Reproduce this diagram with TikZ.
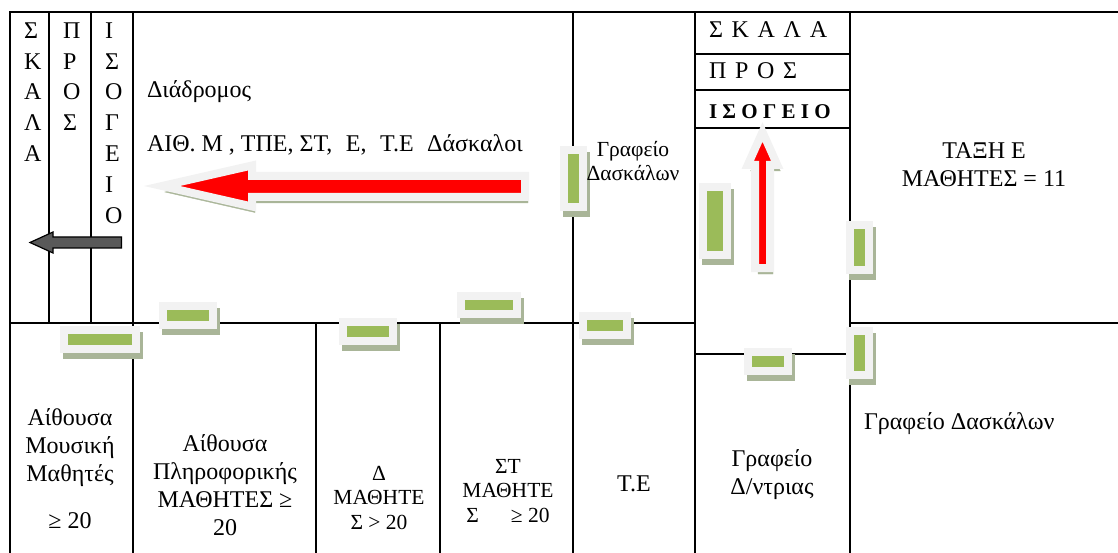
\documentclass[tikz,border=0pt]{standalone}
\usepackage{fontspec}
\setmainfont{Liberation Serif}
\usepackage{tikz}
\usetikzlibrary{positioning,arrows}

\definecolor{doorgreen}{HTML}{9BBB59}
\definecolor{doorpale}{HTML}{F2F2F2}
\definecolor{doorshade}{HTML}{A9B598}
\definecolor{stairgray}{HTML}{595959}

\tikzset{
	wall/.style={line width=1.35pt,draw=black},
	door/.style={rectangle,inner sep=0pt,outer sep=0pt,fill=doorgreen,draw=doorpale,line width=8pt,
		preaction={fill=doorshade,draw=doorshade,transform canvas={shift={(3pt,-6pt)}}}},
	wayarrow/.style={fill=red,draw=doorpale,line width=8pt,line join=miter,miter limit=10,
		preaction={fill=doorshade,draw=doorshade,transform canvas={shift={(3pt,-6pt)}}}},
	label/.style={inner sep=0pt,outer sep=0pt,font=\fontsize{24}{28}\selectfont,align=center},
	smalllabel/.style={label,font=\fontsize{21.5}{24.5}\selectfont},
	letters/.style={inner sep=0pt,outer sep=0pt,anchor=north west,align=left,font=\fontsize{24}{30.8}\selectfont}
}

\begin{document}
\begin{tikzpicture}[x=1pt,y=-1pt]
		\useasboundingbox (0,0) rectangle (1118,553);

		%outer walls
		\draw[wall] (10,553) -- (10,12) -- (1118,12);
		\draw[wall] (10,323) -- (695,323);
		\draw[wall] (850,323) -- (1118,323);

		%stair columns
		\draw[wall] (49,12) -- (49,323);
		\draw[wall] (91,12) -- (91,323);
		\draw[wall] (133,12) -- (133,553);

		%room walls
		\draw[wall] (316,323) -- (316,553);
		\draw[wall] (440,323) -- (440,553);
		\draw[wall] (573,12) -- (573,553);
		\draw[wall] (695,12) -- (695,553);
		\draw[wall] (850,12) -- (850,553);

		%stair rows
		\draw[wall] (695,54) -- (850,54);
		\draw[wall] (695,90) -- (850,90);
		\draw[wall] (695,128) -- (850,128);
		\draw[wall] (695,354) -- (850,354);

		%doors
		\node[door,minimum width=72pt,minimum height=19pt] (d1) at (100,339.5) {};
		\node[door,minimum width=50pt,minimum height=19pt] (d2) at (188,315.5) {};
		\node[door,minimum width=50pt,minimum height=19pt] (d3) at (368,331.5) {};
		\node[door,minimum width=56pt,minimum height=18pt] (d4) at (489,305) {};
		\node[door,minimum width=44pt,minimum height=19pt] (d5) at (605,325.5) {};
		\node[door,minimum width=19pt,minimum height=57pt] (d6) at (573.5,178.5) {};
		\node[door,minimum width=24pt,minimum height=68pt] (d7) at (715,221) {};
		\node[door,minimum width=19pt,minimum height=45pt] (d8) at (859.5,247.5) {};
		\node[door,minimum width=19pt,minimum height=44pt] (d9) at (859.5,353) {};
		\node[door,minimum width=40pt,minimum height=19pt] (d10) at (768,361.5) {};

		%arrows
		\draw[wayarrow] (162,186) -- (252,165.5) -- (252,176) -- (525,176) -- (525,197) -- (252,197) -- (252,206.5) -- cycle;
		\draw[wayarrow] (762.5,132) -- (777.3,165) -- (770,165) -- (770,268) -- (755,268) -- (755,165) -- (747.7,165) -- cycle;
		\draw[fill=stairgray,draw=black,line width=1.2pt] (30,242.5) -- (53,232) -- (53,237) -- (121.5,237) -- (121.5,248) -- (53,248) -- (53,253) -- cycle;

		%stair letters
		\node[letters] (s1) at (24,22.5) {Σ\\Κ\\Α\\Λ\\Α};
		\node[letters] (s2) at (63,22.5) {Π\\Ρ\\Ο\\Σ};
		\node[letters] (s3) at (105,22.5) {Ι\\Σ\\Ο\\Γ\\Ε\\Ι\\Ο};

		%corridor
		\node[label,anchor=base west] (t1) at (147,98) {Διάδρομος};
		\node[label,anchor=base west] (t2) at (147,152) {ΑΙΘ. Μ , ΤΠΕ, ΣΤ,\hspace{7.5pt} Ε,\hspace{7.5pt} Τ.Ε\hspace{7.5pt} Δάσκαλοι};

		%upper rooms
		\node[smalllabel] (t3) at (633,161) {Γραφείο\\Δασκάλων};
		\node[label,anchor=base west] (t4) at (709,38) {\spaceskip=8.7pt Σ Κ Α Λ Α};
		\node[label,anchor=base west] (t5) at (709,79) {\spaceskip=8.7pt Π Ρ Ο Σ};
		\node[label,anchor=base west,font=\fontsize{21}{24}\selectfont\bfseries] (t6) at (709,119) {Ι Σ Ο Γ Ε Ι Ο};
		\node[label] (t7) at (984,165) {ΤΑΞΗ Ε\\ΜΑΘΗΤΕΣ = 11};

		%lower rooms
		\node[label] (t8) at (70,448) {Αίθουσα\\Μουσική\\Μαθητές};
		\node[label] (t9) at (70,521) {≥ 20};
		\node[label] (t10) at (225,485) {Αίθουσα\\Πληροφορικής\\ΜΑΘΗΤΕΣ ≥\\20};
		\node[smalllabel] (t11) at (379,498) {Δ\\ΜΑΘΗΤΕ\\Σ > 20};
		\node[smalllabel] (t12) at (508,491) {ΣΤ\\ΜΑΘΗΤΕ\\Σ\hspace{32pt}≥ 20};
		\node[label] (t13) at (634,484) {Τ.Ε};
		\node[label] (t14) at (772,475) {Γραφείο\\Δ/ντριας};
		\node[label,anchor=base west] (t15) at (864,429) {Γραφείο Δασκάλων};
	\end{tikzpicture}
\end{document}
